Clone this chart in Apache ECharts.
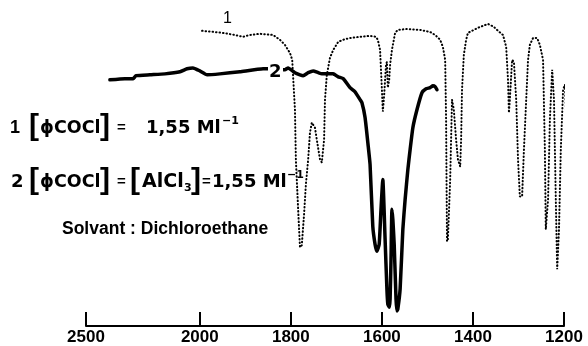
<!DOCTYPE html>
<html><head><meta charset="utf-8">
<script src="https://cdn.jsdelivr.net/npm/echarts@6/dist/echarts.min.js"></script>
<style>html,body{margin:0;padding:0;background:#fff}#c{width:588px;height:346px}</style>
</head><body><div id="c"></div><script>
// x tick labels (wavenumber, cm-1); scale is halved above 2000
const tickLabels = [2500, 2000, 1800, 1600, 1400, 1200];

// curve 1 : [phiCOCl] = 1,55 M/l (dotted)
const wn1 = [1995,1967,1949,1923,1905,1890,1868,1839,1824,1813,
  1802,1797,1795,1791,1789,1784,1780,1776,1771,1767,
  1762,1758,1754,1747,1743,1736,1732,1727,1725,1721,
  1714,1707,1696,1685,1670,1648,1626,1613,1609,1604,
  1600,1598,1595,1591,1589,1587,1584,1582,1578,1571,
  1565,1545,1516,1494,1483,1472,1466,1461,1459,1457,
  1455,1450,1446,1442,1437,1433,1428,1426,1424,1420,
  1415,1411,1389,1367,1354,1345,1334,1327,1323,1321,
  1319,1314,1310,1305,1301,1297,1292,1288,1283,1279,
  1275,1268,1259,1253,1246,1242,1240,1235,1231,1226,
  1222,1218,1215,1211,1207,1202,1198,1193,1189,1185,
  1180,1176,1171,1167];
const t1 = [98.7,98.3,98.0,97.3,96.7,97.3,97.7,97.3,95.7,94.0,
  91.3,89.0,83.3,72.3,55.7,39.0,26.3,27.0,37.3,47.3,
  55.7,64.7,68.0,66.3,62.3,55.7,54.7,62.3,75.7,84.0,
  89.7,92.3,95.0,95.7,96.3,96.7,97.0,96.7,95.7,92.3,
  79.0,71.7,77.3,87.3,88.3,79.7,82.3,87.3,92.3,98.0,
  99.0,99.3,99.0,98.3,97.3,95.7,93.3,89.0,69.0,28.3,
  29.0,49.0,75.7,72.3,62.3,55.7,53.3,62.3,79.0,90.7,
  95.7,98.0,99.7,101.0,100.0,98.7,97.3,93.3,82.3,71.3,
  75.7,89.0,88.3,75.7,55.7,43.3,43.3,59.0,75.7,89.0,
  94.0,96.3,96.3,94.0,89.0,59.0,32.3,42.3,69.0,85.7,
  75.7,42.3,19.0,32.3,59.0,79.0,80.7,62.3,35.7,42.3,
  69.0,80.7,62.3,39.0];

// curve 2 : [phiCOCl] = [AlCl3] = 1,55 M/l (thick)
const wn2 = [2395,2329,2293,2280,2219,2153,2087,2056,2030,2000,
  1984,1956,1912,1861,1850,1813,1806,1791,1780,1773,
  1762,1751,1740,1732,1718,1707,1696,1685,1670,1659,
  1648,1644,1637,1630,1626,1620,1615,1611,1606,1602,
  1598,1593,1589,1587,1584,1582,1580,1578,1576,1573,
  1569,1567,1565,1560,1554,1549,1543,1538,1532,1523,
  1512,1503,1494,1488,1483,1479];
const t2 = [82.3,82.7,82.7,83.7,84.0,84.3,85.0,86.0,86.3,85.3,
  84.0,84.3,85.0,86.0,86.0,85.7,86.3,84.7,84.0,83.7,
  84.7,85.3,84.7,84.3,84.3,84.3,83.3,82.7,79.7,78.3,
  75.7,74.7,69.7,60.0,54.0,33.3,27.3,25.0,27.3,39.0,
  49.0,29.0,12.3,7.3,6.3,9.0,22.3,39.0,35.7,27.3,
  9.0,5.0,5.7,12.3,32.3,42.3,52.3,59.0,66.3,72.3,
  78.0,79.3,79.7,80.3,80.0,79.0];

function toAxis(w){ return w > 2000 ? 2000 + (w - 2000) / 2 : w; }
function fromAxis(u){ return u > 2000 ? 2000 + (u - 2000) * 2 : u; }

const chart = echarts.init(document.getElementById('c'), null, {renderer: 'canvas'});
const BOLD = 'bold 18px "DejaVu Sans", sans-serif';
const LIB = '"Liberation Sans", Arial, sans-serif';
function txt(s, x, y, font, extra){
  return Object.assign({type: 'text', x: x, y: y, z: 100,
    style: {text: s, font: font || BOLD, fill: '#000', align: 'left', verticalAlign: 'middle'}}, extra || {});
}
const BR = 'bold 30px ' + LIB;
const SUP = 'bold 11px "DejaVu Sans", sans-serif';
const graphics = [
  // line 1
  txt('1', 10, 128, 'bold 18px ' + LIB),
  txt('[', 29, 127, BR),
  txt('ϕCOCl', 40, 128, 'bold 17.5px "DejaVu Sans", sans-serif'),
  txt(']', 100, 127, BR),
  txt('=', 117, 128, 'bold 15px ' + LIB),
  txt('1,55 Ml', 146, 128),
  txt('−1', 222, 121, SUP),
  // line 2
  txt('2', 11, 182),
  txt('[', 29, 181, BR),
  txt('ϕCOCl', 40, 182, 'bold 17.5px "DejaVu Sans", sans-serif'),
  txt(']', 100, 181, BR),
  txt('=', 117, 182, 'bold 15px ' + LIB),
  txt('[', 130, 181, BR),
  txt('AlCl', 142, 182, 'bold 19px "DejaVu Sans", sans-serif'),
  txt('3', 184, 188, SUP),
  txt(']', 191, 181, BR),
  txt('=', 202, 182, 'bold 15px ' + LIB),
  txt('1,55 Ml', 212, 182),
  txt('−1', 287, 175, SUP),
  // line 3
  txt('Solvant : Dichloroethane', 62, 229.5, 'bold 17.5px ' + LIB),
  // curve labels
  txt('1', 223, 19, 'normal 16px ' + LIB),
  {type: 'rect', x: 268, y: 60, z: 99, shape: {width: 15, height: 22}, style: {fill: '#fff'}},
  txt('2', 269, 72, BOLD)
];

chart.setOption({
  animation: false,
  backgroundColor: '#fff',
  grid: {left: 86, right: 24, top: 0, bottom: 19},
  xAxis: {
    type: 'value', inverse: true, min: 1200, max: 2250,
    axisLine: {show: true, lineStyle: {color: '#000', width: 2}},
    axisTick: {show: true, inside: true, length: 14, lineStyle: {color: '#000', width: 2},
      customValues: tickLabels.map(toAxis)},
    axisLabel: {customValues: tickLabels.map(toAxis), color: '#000', fontSize: 17,
      fontWeight: 'bold', fontFamily: LIB, margin: 3,
      formatter: v => String(Math.round(fromAxis(v)))},
    splitLine: {show: false}
  },
  yAxis: {type: 'value', min: 0, max: 109, show: false},
  graphic: graphics,
  series: [
    {type: 'line', name: '1', clip: false, showSymbol: false, silent: true,
      data: wn1.map((w, i) => [toAxis(w), t1[i]]),
      lineStyle: {color: '#000', width: 2, type: [0.5, 3], cap: 'round'}},
    {type: 'line', name: '2', clip: false, showSymbol: false, silent: true, smooth: 0.15,
      data: wn2.map((w, i) => [toAxis(w), t2[i]]),
      lineStyle: {color: '#000', width: 3.5, cap: 'round', join: 'round'}}
  ]
});
</script></body></html>
